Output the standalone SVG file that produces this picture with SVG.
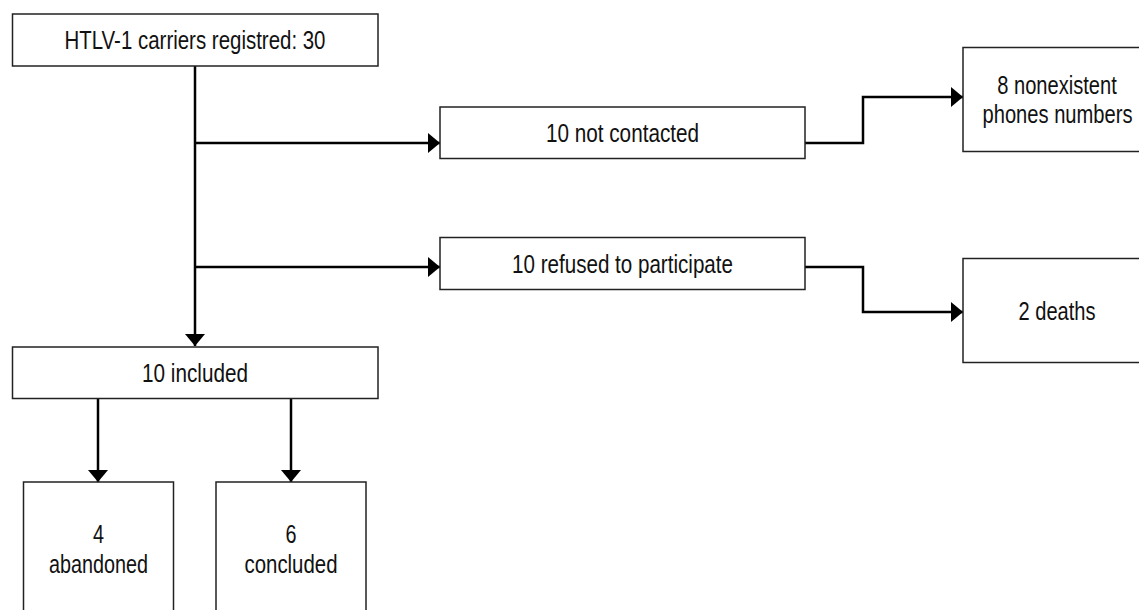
<svg xmlns="http://www.w3.org/2000/svg" width="1139" height="610" viewBox="0 0 1139 610">
<style>
.box{fill:#fff;stroke:#222;stroke-width:1.5}
.t{font-family:"Liberation Sans",Arial,sans-serif;font-size:25.5px;fill:#111;text-anchor:middle}
.c{fill:none;stroke:#000;stroke-width:2.5}
</style>
<defs>
<marker id="ah" viewBox="0 0 12 20" refX="12" refY="10" markerUnits="userSpaceOnUse" markerWidth="12" markerHeight="20" orient="auto">
<path d="M0,0 L12,10 L0,20 Z" fill="#000"/>
</marker>
</defs>
<rect width="1139" height="610" fill="#fff"/>
<g id="connectors">
<path class="c" d="M195,66 V346" marker-end="url(#ah)"/>
<path class="c" d="M195,143 H440" marker-end="url(#ah)"/>
<path class="c" d="M195,267 H440" marker-end="url(#ah)"/>
<path class="c" d="M805,143 H863 V97 H963" marker-end="url(#ah)"/>
<path class="c" d="M805,267 H863 V312 H963" marker-end="url(#ah)"/>
<path class="c" d="M98,398 V482" marker-end="url(#ah)"/>
<path class="c" d="M291,398 V482" marker-end="url(#ah)"/>
</g>
<g id="n-carriers"><rect class="box" x="12.5" y="14" width="365.5" height="52"/><text class="t" x="195" y="49" textLength="261" lengthAdjust="spacingAndGlyphs">HTLV-1 carriers registred: 30</text></g>
<g id="n-notcontacted"><rect class="box" x="440" y="107" width="365" height="51.5"/><text class="t" x="622.5" y="141.5" textLength="153" lengthAdjust="spacingAndGlyphs">10 not contacted</text></g>
<g id="n-refused"><rect class="box" x="440" y="237.5" width="365" height="52"/><text class="t" x="622.5" y="273" textLength="221" lengthAdjust="spacingAndGlyphs">10 refused to participate</text></g>
<g id="n-included"><rect class="box" x="12.5" y="347" width="365.5" height="51.5"/><text class="t" x="195" y="382" textLength="106" lengthAdjust="spacingAndGlyphs">10 included</text></g>
<g id="n-nonexistent"><rect class="box" x="963" y="47.5" width="188" height="104"/><text class="t" x="1057" y="93.5" textLength="119.5" lengthAdjust="spacingAndGlyphs">8 nonexistent</text><text class="t" x="1057.5" y="123" textLength="150" lengthAdjust="spacingAndGlyphs">phones numbers</text></g>
<g id="n-deaths"><rect class="box" x="963" y="258.5" width="188" height="104"/><text class="t" x="1057" y="320" textLength="77" lengthAdjust="spacingAndGlyphs">2 deaths</text></g>
<g id="n-abandoned"><rect class="box" x="23.5" y="482" width="150" height="160"/><text class="t" x="98.5" y="542.5" textLength="11" lengthAdjust="spacingAndGlyphs">4</text><text class="t" x="98.5" y="572.5" textLength="99" lengthAdjust="spacingAndGlyphs">abandoned</text></g>
<g id="n-concluded"><rect class="box" x="216" y="482" width="150" height="160"/><text class="t" x="291" y="542.5" textLength="11" lengthAdjust="spacingAndGlyphs">6</text><text class="t" x="291" y="572.5" textLength="93" lengthAdjust="spacingAndGlyphs">concluded</text></g>
</svg>
